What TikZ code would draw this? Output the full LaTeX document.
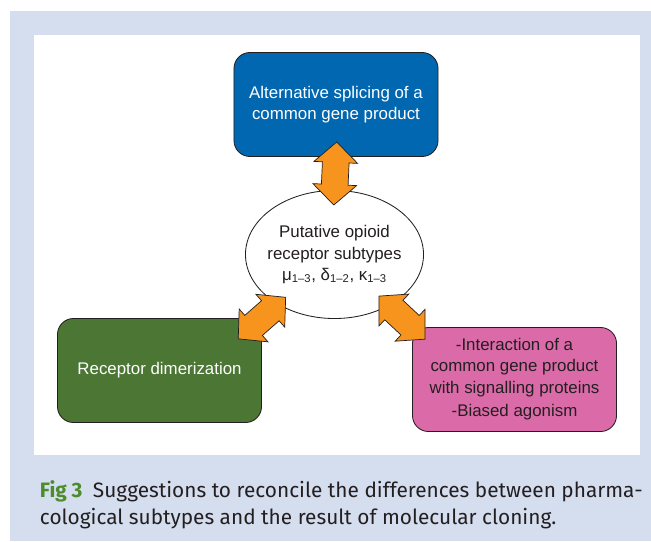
\documentclass[tikz,border=0pt]{standalone}
\usepackage{fontspec}
\setmainfont{Liberation Sans}
\newfontfamily\capfont{Fira Sans}
\usetikzlibrary{shapes.geometric,shapes.arrows}
\definecolor{panelblue}{HTML}{D5DEEF}
\definecolor{boxblue}{HTML}{0067B0}
\definecolor{boxgreen}{HTML}{4B7634}
\definecolor{boxpink}{HTML}{DB6BA8}
\definecolor{arroworange}{HTML}{F7941E}
\definecolor{figgreen}{HTML}{4C8C2B}
\definecolor{darktext}{HTML}{231F20}
\tikzset{
  cause/.style={draw=darktext, line width=0.6pt, rounded corners=0.4cm, minimum width=5.1cm,
    minimum height=2.6cm, align=center, font=\fontsize{12}{15}\selectfont},
  dblarrow/.style={double arrow, draw=darktext, fill=arroworange, line width=0.5pt,
    minimum height=1.575cm, inner xsep=0pt, inner ysep=0.325cm,
    double arrow head extend=0.2125cm, double arrow tip angle=94}
}
\begin{document}
\begin{tikzpicture}[x=0.025cm,y=-0.025cm]
\useasboundingbox (0,0) rectangle (651,541);
\fill[panelblue] (10,11) rectangle (651,541);
\fill[white] (34,35) rectangle (640,455);
\node[cause, fill=boxblue, text=white] (splice) at (336,104.5) {Alternative splicing of a\\common gene product};
\node[ellipse, draw=darktext, line width=0.6pt, fill=white, minimum width=4.45cm, minimum height=3.2cm,
  inner xsep=-5pt, inner ysep=0pt, align=center, text=darktext, font=\fontsize{12}{15}\selectfont] (sub) at (334.5,254.5)
  {Putative opioid\\receptor subtypes\\μ\textsubscript{1–3}, δ\textsubscript{1–2}, κ\textsubscript{1–3}};
\node[cause, fill=boxgreen, text=white] (dimer) at (159.5,370.5) {Receptor dimerization};
\node[cause, fill=boxpink, text=darktext] (signal) at (514.5,379.5)
  {-Interaction of a\\common gene product\\with signalling proteins\\[2pt]-Biased agonism};
\path (splice.south) -- (sub.north) node[dblarrow, sloped, midway] {};
\path (dimer.north east) -- (sub.center) node[dblarrow, sloped, pos=0] {};
\path (signal.north west) -- (sub.center) node[dblarrow, sloped, pos=0.13] {};
\node[anchor=base west, align=left, text=darktext, font=\capfont\fontsize{14.8}{19.2}\selectfont] (caption) at (35,524)
  {\textcolor{figgreen}{\bfseries Fig 3}\enspace Suggestions to reconcile the differences between pharma-\\cological subtypes and the result of molecular cloning.};
\end{tikzpicture}
\end{document}
